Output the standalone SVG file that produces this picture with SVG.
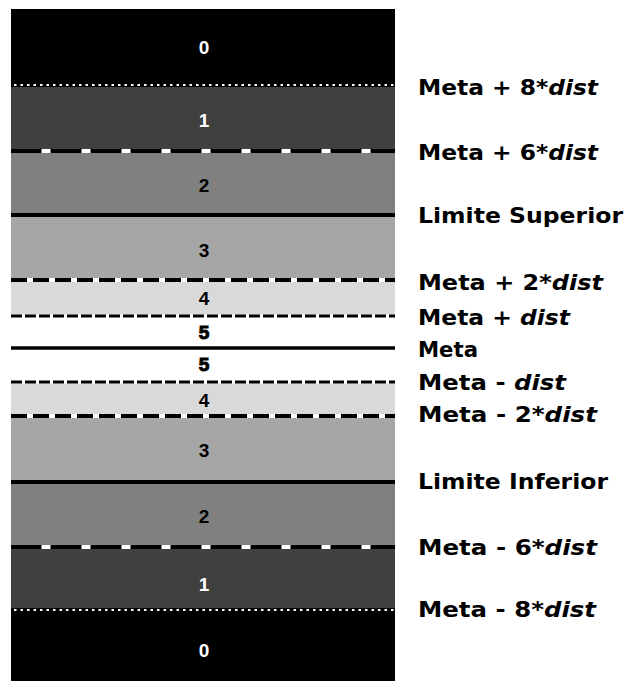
<svg xmlns="http://www.w3.org/2000/svg" width="625" height="682" viewBox="0 0 625 682">
<style>
.num{font-family:"Liberation Sans",Arial,sans-serif;font-weight:bold;font-size:19px;text-anchor:middle}
.w{fill:#fff}.k{fill:#000}
.five{stroke:#000;stroke-width:1}
.lbl{font-family:"DejaVu Sans","Open Sans",sans-serif;font-weight:bold;font-size:21px;fill:#000}
.it{font-style:italic}
.blk{stroke:#000;fill:none}
.wht{stroke:#fff;fill:none}
</style>
<rect width="625" height="682" fill="#fff"/>
<g id="band0-top"><rect x="11" y="9" width="384" height="76" fill="#000"/><text class="num w" x="204" y="54">0</text></g>
<g id="band1-top"><rect x="11" y="85" width="384" height="66" fill="#404040"/><text class="num w" x="204" y="127">1</text></g>
<g id="band2-top"><rect x="11" y="151" width="384" height="64" fill="#808080"/><text class="num k" x="204" y="192">2</text></g>
<g id="band3-top"><rect x="11" y="215" width="384" height="65" fill="#a6a6a6"/><text class="num k" x="204" y="257">3</text></g>
<g id="band4-top"><rect x="11" y="280" width="384" height="36" fill="#d9d9d9"/><text class="num k" x="204" y="305">4</text></g>
<g id="band5-top"><rect x="11" y="316" width="384" height="32" fill="#fff"/><text class="num k five" x="204" y="339">5</text></g>
<g id="band5-bot"><rect x="11" y="348" width="384" height="34" fill="#fff"/><text class="num k five" x="204" y="371">5</text></g>
<g id="band4-bot"><rect x="11" y="382" width="384" height="34" fill="#d9d9d9"/><text class="num k" x="204" y="407">4</text></g>
<g id="band3-bot"><rect x="11" y="416" width="384" height="66" fill="#a6a6a6"/><text class="num k" x="204" y="457">3</text></g>
<g id="band2-bot"><rect x="11" y="482" width="384" height="65" fill="#808080"/><text class="num k" x="204" y="523">2</text></g>
<g id="band1-bot"><rect x="11" y="547" width="384" height="63" fill="#404040"/><text class="num w" x="204" y="591">1</text></g>
<g id="band0-bot"><rect x="11" y="610" width="384" height="71" fill="#000"/><text class="num w" x="204" y="657">0</text></g>
<g id="lines">
<line class="blk" x1="11" y1="85" x2="395" y2="85" stroke-width="4"/>
<line class="wht" x1="11" y1="85" x2="395" y2="85" stroke-width="2" stroke-dasharray="2.5 4" stroke-dashoffset="-3"/>
<line class="blk" x1="11" y1="151" x2="395" y2="151" stroke-width="4"/>
<line class="wht" x1="11" y1="151" x2="395" y2="151" stroke-width="4" stroke-dasharray="9 31" stroke-dashoffset="9.5"/>
<line class="blk" x1="11" y1="215" x2="395" y2="215" stroke-width="4"/>
<line class="wht" x1="11" y1="280" x2="395" y2="280" stroke-width="4"/>
<line class="blk" x1="11" y1="280" x2="395" y2="280" stroke-width="4" stroke-dasharray="16 6"/>
<line class="wht" x1="11" y1="316" x2="395" y2="316" stroke-width="3"/>
<line class="blk" x1="11" y1="316" x2="395" y2="316" stroke-width="3" stroke-dasharray="11 3"/>
<line class="blk" x1="11" y1="348" x2="395" y2="348" stroke-width="3.5"/>
<line class="wht" x1="11" y1="382" x2="395" y2="382" stroke-width="3"/>
<line class="blk" x1="11" y1="382" x2="395" y2="382" stroke-width="3" stroke-dasharray="11 3"/>
<line class="wht" x1="11" y1="416" x2="395" y2="416" stroke-width="4"/>
<line class="blk" x1="11" y1="416" x2="395" y2="416" stroke-width="4" stroke-dasharray="16 6"/>
<line class="blk" x1="11" y1="482" x2="395" y2="482" stroke-width="4"/>
<line class="blk" x1="11" y1="547" x2="395" y2="547" stroke-width="4"/>
<line class="wht" x1="11" y1="547" x2="395" y2="547" stroke-width="4" stroke-dasharray="9 31" stroke-dashoffset="9.5"/>
<line class="blk" x1="11" y1="610" x2="395" y2="610" stroke-width="4"/>
<line class="wht" x1="11" y1="610" x2="395" y2="610" stroke-width="2" stroke-dasharray="2.5 4" stroke-dashoffset="-3"/>
</g>
<g id="labels">
<text class="lbl" x="418" y="95" textLength="180" lengthAdjust="spacingAndGlyphs">Meta + 8*<tspan class="it">dist</tspan></text>
<text class="lbl" x="418" y="160" textLength="180" lengthAdjust="spacingAndGlyphs">Meta + 6*<tspan class="it">dist</tspan></text>
<text class="lbl" x="418" y="223" textLength="205" lengthAdjust="spacingAndGlyphs">Limite Superior</text>
<text class="lbl" x="418" y="290" textLength="185" lengthAdjust="spacingAndGlyphs">Meta + 2*<tspan class="it">dist</tspan></text>
<text class="lbl" x="418" y="325" textLength="152" lengthAdjust="spacingAndGlyphs">Meta + <tspan class="it">dist</tspan></text>
<text class="lbl" x="418" y="357" textLength="60" lengthAdjust="spacingAndGlyphs">Meta</text>
<text class="lbl" x="418" y="390" textLength="148" lengthAdjust="spacingAndGlyphs">Meta - <tspan class="it">dist</tspan></text>
<text class="lbl" x="418" y="422" textLength="179" lengthAdjust="spacingAndGlyphs">Meta - 2*<tspan class="it">dist</tspan></text>
<text class="lbl" x="418" y="489" textLength="190" lengthAdjust="spacingAndGlyphs">Limite Inferior</text>
<text class="lbl" x="418" y="555" textLength="179" lengthAdjust="spacingAndGlyphs">Meta - 6*<tspan class="it">dist</tspan></text>
<text class="lbl" x="418" y="617" textLength="178" lengthAdjust="spacingAndGlyphs">Meta - 8*<tspan class="it">dist</tspan></text>
</g>
</svg>
